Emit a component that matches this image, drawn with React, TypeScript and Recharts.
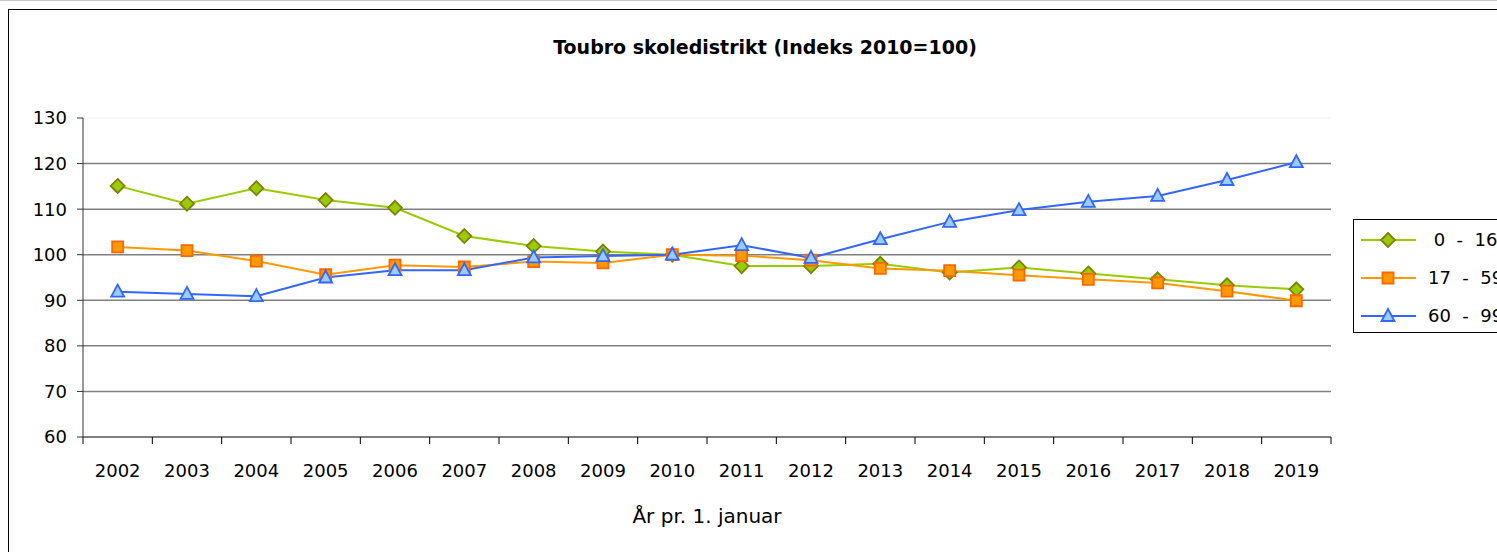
import React from "react";
import {
  LineChart,
  Line,
  XAxis,
  YAxis,
  CartesianGrid,
  Legend,
  ReferenceLine,
} from "recharts";

const years = [
  "2002", "2003", "2004", "2005", "2006", "2007", "2008", "2009", "2010",
  "2011", "2012", "2013", "2014", "2015", "2016", "2017", "2018", "2019",
];
const age0to16 = [
  115.1, 111.2, 114.6, 112.0, 110.3, 104.1, 101.9, 100.7, 100.0,
  97.5, 97.5, 98.0, 96.1, 97.2, 95.9, 94.6, 93.3, 92.4,
];
const age17to59 = [
  101.7, 100.9, 98.6, 95.6, 97.7, 97.3, 98.5, 98.2, 100.0,
  99.8, 98.8, 97.0, 96.5, 95.5, 94.6, 93.8, 92.0, 89.9,
];
const age60to99 = [
  91.9, 91.4, 90.9, 95.0, 96.6, 96.6, 99.4, 99.7, 100.0,
  102.1, 99.3, 103.4, 107.2, 109.8, 111.6, 112.9, 116.4, 120.3,
];
const seriesNames = [" 0  -  16", "17  -  59", "60  -  99"];
const yTicks = [60, 70, 80, 90, 100, 110, 120, 130];
const gridValues = [70, 80, 90, 100, 110, 120];

const data = years.map((y, i) => ({
  i,
  year: y,
  a: age0to16[i],
  b: age17to59[i],
  c: age60to99[i],
}));

const boundaryTicks = years.map((_, i) => i - 0.5).concat([years.length - 0.5]);
const xTicks = [...boundaryTicks, ...years.map((_, i) => i)].sort((p, q) => p - q);

const FONT = "'DejaVu Sans', sans-serif";

const markerPath = (kind: string, cx: number, cy: number) => {
  if (kind === "diamond") {
    const r = 7;
    return `M${cx},${cy - r}L${cx + r},${cy}L${cx},${cy + r}L${cx - r},${cy}Z`;
  }
  if (kind === "square") {
    const r = 5.5;
    return `M${cx - r},${cy - r}L${cx + r},${cy - r}L${cx + r},${cy + r}L${cx - r},${cy + r}Z`;
  }
  const h = 6;
  return `M${cx},${cy - h - 1}L${cx + 6.5},${cy + h - 1}L${cx - 6.5},${cy + h - 1}Z`;
};

const series = [
  { key: "a", name: seriesNames[0], line: "#99CC00", fill: "#99CC00", stroke: "#808000", kind: "diamond" },
  { key: "b", name: seriesNames[1], line: "#FF9900", fill: "#FF9900", stroke: "#FF6600", kind: "square" },
  { key: "c", name: seriesNames[2], line: "#3366FF", fill: "#99CCFF", stroke: "#3366FF", kind: "triangle" },
];

const makeDot = (s: any) => (p: any) => {
  const { cx, cy, index } = p;
  if (cx == null || cy == null) return <g key={`${s.key}-${index}`} />;
  return (
    <path
      key={`${s.key}-${index}`}
      d={markerPath(s.kind, cx, cy)}
      fill={s.fill}
      stroke={s.stroke}
      strokeWidth={1.8}
    />
  );
};

const XTick = (props: any) => {
  const { x, y, payload } = props;
  const v = payload.value;
  if (Number.isInteger(v)) {
    return (
      <text x={x} y={y + 40} textAnchor="middle" fontSize={18} fontFamily={FONT} fill="#000">
        {years[v]}
      </text>
    );
  }
  return <line x1={x} y1={y} x2={x} y2={y + 7} stroke="#000" strokeWidth={1} />;
};

const LegendBox = () => (
  <div
    style={{
      width: 200,
      height: 114,
      border: "1px solid #000",
      background: "#fff",
      fontFamily: FONT,
      fontSize: 18,
      color: "#000",
      boxSizing: "border-box",
    }}
  >
    {series.map((s, idx) => (
      <div
        key={s.key}
        style={{
          position: "absolute",
          left: 0,
          top: 21 + idx * 38 - 11,
          height: 22,
          display: "flex",
          alignItems: "center",
        }}
      >
        <svg width={72} height={22} style={{ display: "block" }}>
          <line x1={8} y1={11} x2={63} y2={11} stroke={s.line} strokeWidth={2} />
          <path d={markerPath(s.kind, 35, 11)} fill={s.fill} stroke={s.stroke} strokeWidth={1.8} />
        </svg>
        <span style={{ whiteSpace: "pre", marginLeft: 3, lineHeight: "22px" }}>{s.name}</span>
      </div>
    ))}
  </div>
);

export default function App() {
  return (
    <div
      style={{
        position: "absolute",
        left: 0,
        top: 0,
        width: 1497,
        height: 552,
        overflow: "hidden",
        background: "#fff",
      }}
    >
      <div style={{ position: "absolute", left: 0, top: 0, width: 1497, height: 1, background: "#c8c8c8" }} />
      <div
        style={{
          position: "absolute",
          left: 8,
          top: 9,
          width: 1700,
          height: 700,
          border: "1.5px solid #000",
        }}
      />
      <div
        style={{
          position: "absolute",
          left: 0,
          top: 36,
          width: 1530,
          textAlign: "center",
          fontFamily: FONT,
          fontWeight: "bold",
          fontSize: 19,
          lineHeight: "22px",
          color: "#000",
        }}
      >
        Toubro skoledistrikt (Indeks 2010=100)
      </div>
      <div style={{ position: "absolute", left: 0, top: 0 }}>
        <LineChart
          width={1497}
          height={552}
          data={data}
          margin={{ top: 118, right: 166, bottom: 35, left: 13 }}
        >
          <CartesianGrid
            vertical={false}
            horizontalValues={gridValues}
            stroke="#808080"
            strokeWidth={1.5}
          />
          <ReferenceLine y={130} stroke="#f0f0f0" strokeWidth={1} />
          <XAxis
            dataKey="i"
            type="number"
            domain={[-0.5, years.length - 0.5]}
            ticks={xTicks}
            interval={0}
            tick={<XTick />}
            tickLine={false}
            tickSize={0}
            tickMargin={0}
            height={80}
            axisLine={{ stroke: "#000", strokeWidth: 1 }}
            label={{
              value: "År pr. 1. januar",
              position: "insideTop",
              offset: 72,
              fontSize: 20,
              fontFamily: FONT,
              fill: "#000",
            }}
          />
          <YAxis
            type="number"
            domain={[60, 130]}
            ticks={yTicks}
            interval={0}
            width={70}
            tickSize={6}
            tickMargin={10}
            axisLine={{ stroke: "#333", strokeWidth: 1 }}
            tickLine={{ stroke: "#333", strokeWidth: 1 }}
            tick={{ fontSize: 18, fontFamily: FONT, fill: "#000" }}
          />
          <Legend
            layout="vertical"
            align="center"
            verticalAlign="middle"
            wrapperStyle={{ left: 1353, top: 219, width: 200, height: 114 }}
            content={() => <LegendBox />}
          />
          {series.map((s) => (
            <Line
              key={s.key}
              type="linear"
              dataKey={s.key}
              name={s.name}
              stroke={s.line}
              strokeWidth={2}
              dot={makeDot(s)}
              activeDot={false}
              isAnimationActive={false}
            />
          ))}
        </LineChart>
      </div>
    </div>
  );
}
